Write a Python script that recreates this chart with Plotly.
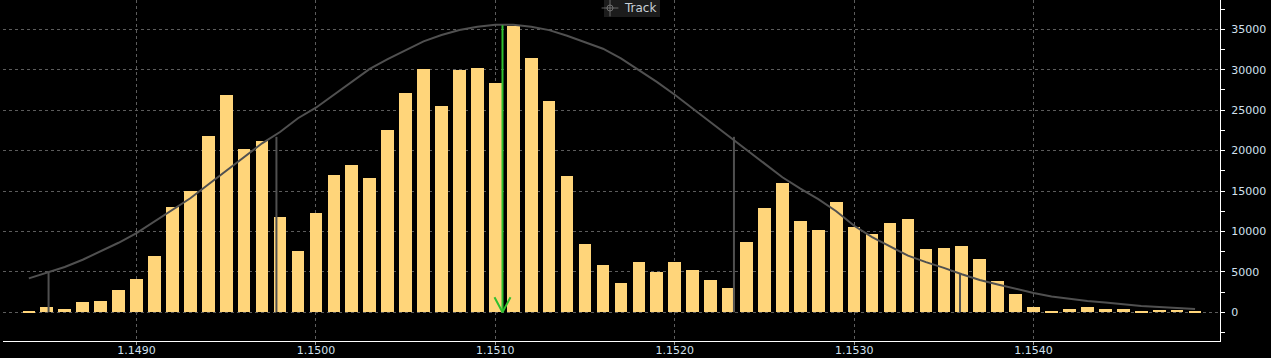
import plotly.graph_objects as go

# ---------------- data ----------------
prices = [1.1484, 1.1485, 1.1486, 1.1487, 1.1488, 1.1489, 1.1490, 1.1491, 1.1492, 1.1493,
          1.1494, 1.1495, 1.1496, 1.1497, 1.1498, 1.1499, 1.1500, 1.1501, 1.1502, 1.1503,
          1.1504, 1.1505, 1.1506, 1.1507, 1.1508, 1.1509, 1.1510, 1.1511, 1.1512, 1.1513,
          1.1514, 1.1515, 1.1516, 1.1517, 1.1518, 1.1519, 1.1520, 1.1521, 1.1522, 1.1523,
          1.1524, 1.1525, 1.1526, 1.1527, 1.1528, 1.1529, 1.1530, 1.1531, 1.1532, 1.1533,
          1.1534, 1.1535, 1.1536, 1.1537, 1.1538, 1.1539, 1.1540, 1.1541, 1.1542, 1.1543,
          1.1544, 1.1545, 1.1546, 1.1547, 1.1548, 1.1549]

volumes = [200, 650, 400, 1270, 1400, 2760, 4120, 6960, 13020, 14960,
           21800, 26870, 20200, 21180, 11790, 7580, 12280, 16980, 18220, 16610,
           22540, 27120, 30090, 25510, 29970, 30210, 28360, 35400, 31450, 26130,
           16860, 8450, 5850, 3620, 6220, 4980, 6220, 5230, 3990, 3000,
           8700, 12900, 15990, 11290, 10180, 13640, 10550, 9690, 11050, 11540,
           7830, 7950, 8200, 6590, 3870, 2260, 650, 160, 400, 650,
           400, 400, 160, 280, 280, 160]

curve = [4200, 4900, 5600, 6500, 7500, 8600, 9800, 11200, 12700, 14100,
         15800, 17500, 19200, 20900, 22300, 24000, 25300, 26900, 28500, 30100,
         31300, 32400, 33500, 34300, 34900, 35300, 35550, 35550, 35300, 34900,
         34200, 33400, 32600, 31400, 30000, 28500, 26900, 25200, 23600, 21900,
         20100, 18400, 16700, 15300, 14000, 12500, 10700, 9300, 8100, 7000,
         6200, 5500, 4700, 4000, 3450, 2900, 2400, 1950, 1650, 1400,
         1200, 950, 780, 660, 520, 420]

sigma_prices = [1.14851, 1.14978, 1.15233, 1.15359]
sigma_tops = [4900, 21700, 21700, 4800]
mean_price = 1.15104
mean_top = 35500

x_ticks = [1.1490, 1.1500, 1.1510, 1.1520, 1.1530, 1.1540]
y_ticks = [0, 5000, 10000, 15000, 20000, 25000, 30000, 35000]

# ---------------- layout constants ----------------
W, H = 1271, 358
M_L, M_R, M_T, M_B = 3, 51, 0, 17
PLOT_W = W - M_L - M_R
PLOT_H = H - M_T - M_B
X_RANGE = [1.148256, 1.155039]
Y_RANGE = [-3549, 38622]
px_x = (X_RANGE[1] - X_RANGE[0]) / PLOT_W
px_y = (Y_RANGE[1] - Y_RANGE[0]) / PLOT_H

BAR_COLOR = "#FFD57A"
CURVE_COLOR = "#505050"
GREEN = "#2fbf2f"
GRID = "#5c5c5c"
LABEL = "#d2e0ee"
FONT = "DejaVu Sans"

fig = go.Figure()

fig.add_trace(go.Bar(x=prices, y=volumes, width=0.0000705,
                     marker=dict(color=BAR_COLOR, line=dict(width=0)),
                     hoverinfo="skip"))

fig.add_trace(go.Scatter(x=prices, y=curve, mode="lines",
                         line=dict(color=CURVE_COLOR, width=2),
                         hoverinfo="skip"))

sx, sy = [], []
for p, t in zip(sigma_prices, sigma_tops):
    sx += [p, p, None]
    sy += [0, t, None]
fig.add_trace(go.Scatter(x=sx, y=sy, mode="lines",
                         line=dict(color=CURVE_COLOR, width=2),
                         hoverinfo="skip"))

arm_dx = 8 * px_x
arm_dy = 15 * px_y
fig.add_trace(go.Scatter(
    x=[mean_price, mean_price, None, mean_price - arm_dx, mean_price, mean_price + arm_dx],
    y=[mean_top, 0, None, arm_dy, 0, arm_dy],
    mode="lines", line=dict(color=GREEN, width=2), hoverinfo="skip"))

# white triangle markers at major y ticks (right axis)
fig.add_trace(go.Scatter(
    x=[X_RANGE[1] + 4 * px_x] * len(y_ticks), y=y_ticks, mode="markers",
    marker=dict(symbol="triangle-right", size=8, color="white"),
    cliponaxis=False, hoverinfo="skip"))

# "Track" button: background box, crosshair icon, label
fig.add_shape(type="rect", xref="paper", yref="paper", layer="between",
              x0=(604 - M_L) / PLOT_W, x1=(660 - M_L) / PLOT_W,
              y0=1 - 17 / PLOT_H, y1=1, fillcolor="#1c1c1c", line=dict(width=0))
icon_x = X_RANGE[0] + (610 - M_L) * px_x
icon_y = Y_RANGE[1] - 8 * px_y
fig.add_trace(go.Scatter(
    x=[icon_x, icon_x], y=[icon_y, icon_y], mode="markers", cliponaxis=False,
    marker=dict(symbol=["cross-thin-open", "circle-open"], size=[12, 6],
                color="#8a8a8a", line=dict(color="#8a8a8a", width=1)),
    hoverinfo="skip"))
fig.add_annotation(
    xref="paper", yref="paper", x=(622 - M_L) / PLOT_W, y=1 - 8.5 / PLOT_H,
    xanchor="left", yanchor="middle", showarrow=False, text="Track",
    font=dict(family=FONT, size=12, color="#c8d0d8"))

fig.update_layout(
    width=W, height=H,
    margin=dict(l=M_L, r=M_R, t=M_T, b=M_B, pad=0, autoexpand=False),
    paper_bgcolor="black", plot_bgcolor="black",
    showlegend=False, hovermode=False, bargap=0,
    font=dict(family=FONT, size=11, color=LABEL),
    xaxis=dict(range=X_RANGE, tickvals=x_ticks,
               ticktext=[f"{v:.4f}" for v in x_ticks],
               showgrid=True, gridcolor=GRID, griddash="dot", gridwidth=1,
               zeroline=False, showline=True, linecolor="white", linewidth=1,
               ticks="outside", ticklen=3, tickcolor="#9a9a9a", automargin=False,
               ticklabelstandoff=-4,
               tickfont=dict(family=FONT, size=11, color=LABEL)),
    yaxis=dict(range=Y_RANGE, side="right", tickvals=y_ticks,
               ticktext=[str(v) for v in y_ticks],
               showgrid=True, gridcolor=GRID, griddash="dot", gridwidth=1,
               zeroline=False, showline=True, linecolor="white", linewidth=1,
               ticks="outside", ticklen=8, tickcolor="rgba(0,0,0,0)", automargin=False,
               minor=dict(dtick=2500, tick0=0, ticks="outside", ticklen=4,
                          tickcolor="white", showgrid=False),
               tickfont=dict(family=FONT, size=11, color=LABEL)),
)

fig.write_html("out.html", config={"displayModeBar": False},
               post_script="document.body.style.margin='0';document.body.style.overflow='hidden';")
